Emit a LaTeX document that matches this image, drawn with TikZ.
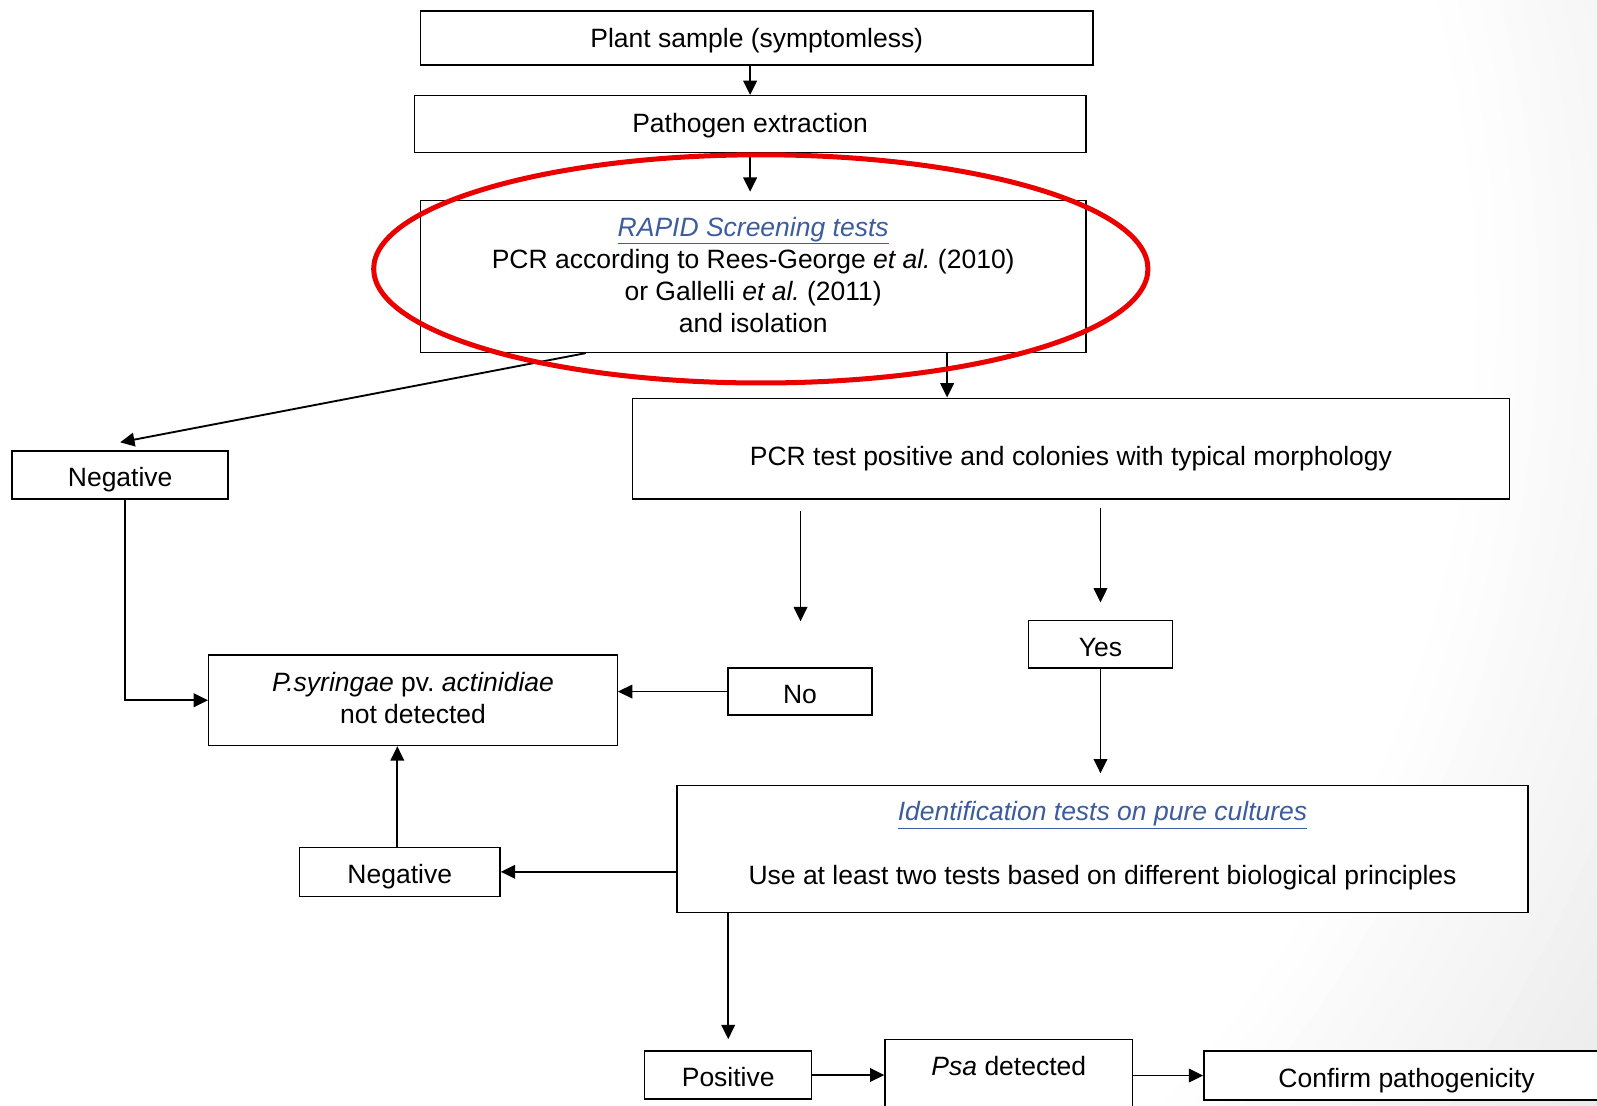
\documentclass[tikz,border=0pt]{standalone}
\usepackage{fontspec}
\setmainfont{Liberation Sans}
\usepackage{xcolor}
\usetikzlibrary{arrows.meta, positioning, calc, shapes}
\definecolor{linkblue}{RGB}{59,92,158}
\definecolor{markred}{RGB}{235,0,0}
\frenchspacing

\begin{document}
\begin{tikzpicture}[x=0.025cm, y=-0.025cm,
  font=\fontsize{18.5}{22.5}\selectfont,
  box/.style={draw, line width=1pt, fill=white, inner sep=0pt, align=center},
  oneline/.style={box, text height=20.5pt, text depth=4pt},
  arr/.style={-{Triangle[length=10pt,width=9.5pt]}, line width=1.3pt}]
  \clip (0,0) rectangle (1568,1085);
  % background
  \foreach \r [evaluate=\r as \g using {9*(\r-1150)/400}] in {1550,1530,...,1150}
    \fill[black!\g] (300,300) circle[radius=\r];

  % top chain
  \node[oneline, text height=17pt, minimum width=16.5cm, minimum height=1.325cm] (plant) at (743,37.5) {Plant sample (symptomless)};
  \node[oneline, text height=15pt, minimum width=16.475cm, minimum height=1.4cm] (extract) at (736.5,122) {Pathogen extraction};
  \node[box, text depth=2.3pt, minimum width=16.325cm, minimum height=3.725cm] (rapid) at (739.5,271.5)
    {\textcolor{linkblue}{\underline{\textit{RAPID Screening tests}}}\\
     PCR according to Rees-George \textit{et al.} (2010)\\
     or Gallelli \textit{et al.} (2011)\\
     and isolation};

  % results of screening
  \node[oneline, minimum width=5.3cm, minimum height=1.175cm] (negA) at (118,466.5) {Negative};
  \node[oneline, text height=27.5pt, minimum width=21.525cm, minimum height=2.475cm] (pcrpos) at (1051.5,440.5) {PCR test positive and colonies with typical morphology};
  \node[oneline, minimum width=3.525cm, minimum height=1.175cm] (yes) at (1080.5,632.5) {Yes};
  \node[oneline, minimum width=3.525cm, minimum height=1.15cm] (no) at (785.5,679) {No};
  \node[box, text depth=3pt, minimum width=10.025cm, minimum height=2.225cm] (notdet) at (405.5,687.5)
    {\textit{P.syringae} pv. \textit{actinidiae}\\ not detected};

  % identification
  \node[box, text depth=8.2pt, minimum width=20.875cm, minimum height=3.125cm] (ident) at (1082.5,833.5)
    {\textcolor{linkblue}{\underline{\textit{Identification tests on pure cultures}}}\\[\baselineskip]
     Use at least two tests based on different biological principles};
  \node[oneline, minimum width=4.925cm, minimum height=1.2cm] (negB) at (392.5,856) {Negative};
  \node[oneline, minimum width=4.1cm, minimum height=1.175cm] (pos) at (715,1055.5) {Positive};
  \node[box, minimum width=6.075cm, text height=0.875cm, text depth=1.5cm, anchor=north] (psa) at (990.5,1020) {\textit{Psa} detected};
  \node[oneline, minimum width=9.95cm, minimum height=1.2cm] (confirm) at (1381,1056) {Confirm pathogenicity};

  \coordinate (nofrom) at (786,502);
  \coordinate (noto) at (786,610);

  % connectors
  \draw[arr] (extract.north |- plant.south) -- (extract.north);
  \draw[arr] (extract.south) -- ([yshift=0.2cm]extract.south |- rapid.north);
  \draw[arr] ([xshift=-4.11cm]rapid.south) -- ([yshift=0.2cm]negA.north);
  \draw[arr] ([xshift=4.76cm]rapid.south) -- ([xshift=4.76cm]rapid.south |- pcrpos.north);
  \draw[arr] (nofrom) -- (noto);
  \draw[arr] ([yshift=-0.2cm]yes.north |- pcrpos.south) -- ([yshift=0.42cm]yes.north);
  \draw[arr] (yes.south) -- ([yshift=0.275cm]yes.south |- ident.north);
  \draw[arr] (no.west) -- (no.west -| notdet.east);
  \draw[arr] ([xshift=0.125cm]negA.south) |- (notdet.west);
  \draw[arr] ([xshift=-0.06cm]negB.north) -- ([xshift=-0.06cm]negB.north |- notdet.south);
  \draw[arr] (ident.west |- negB.east) -- (negB.east);
  \draw[arr] (pos.north |- ident.south) -- ([yshift=0.275cm]pos.north);
  \draw[arr] (pos.east) -- (psa.west |- pos.east);
  \draw[arr] (psa.east |- confirm.west) -- (confirm.west);

  % highlight
  \draw[markred, line width=3.5pt] (747,264) ellipse [x radius=9.5cm, y radius=2.8cm];
\end{tikzpicture}
\end{document}
